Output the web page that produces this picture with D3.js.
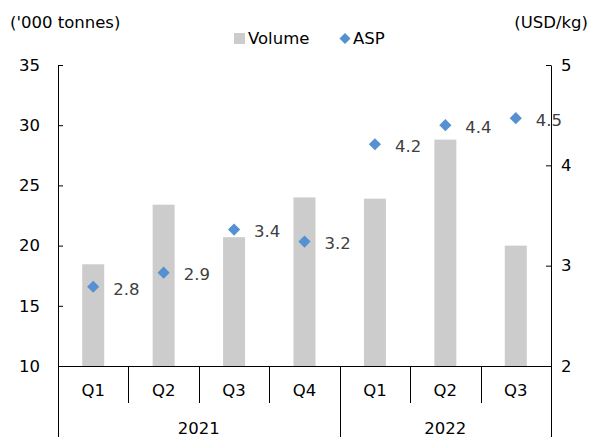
<!DOCTYPE html>
<html>
<head>
<meta charset="utf-8">
<script src="https://cdn.jsdelivr.net/npm/d3@7"></script>
<style>
  html, body { margin: 0; padding: 0; background: #fff; }
  svg { display: block; font-family: "DejaVu Sans", Verdana, sans-serif; }
</style>
</head>
<body>
<svg id="chart" width="589" height="437"></svg>
<script>
// Quarterly sales volume ('000 tonnes) and average selling price (USD/kg)
const quarters = ["Q1", "Q2", "Q3", "Q4", "Q1", "Q2", "Q3"];
const years = ["2021", "2022"];
const yearSpans = [4, 3];
const volume = [18.45, 23.4, 20.7, 24.0, 23.9, 28.8, 20.0];
const asp = [2.79, 2.93, 3.36, 3.24, 4.21, 4.40, 4.47];
const leftTicks = [10, 15, 20, 25, 30, 35];
const rightTicks = [2, 3, 4, 5];

const svg = d3.select("#chart");
const fontSize = 16.5;
const plotL = 58, plotR = 551, plotT = 65, plotB = 366;

const keys = quarters.map((q, i) => i);
const x = d3.scaleBand().domain(keys).range([plotL, plotR]).padding(0);
const yL = d3.scaleLinear().domain([10, 35]).range([plotB, plotT]);
const yR = d3.scaleLinear().domain([2, 5]).range([plotB, plotT]);

const barW = 22;

// bars
svg.append("g").selectAll("rect")
  .data(volume)
  .join("rect")
  .attr("x", (d, i) => x(i) + x.bandwidth() / 2 - barW / 2)
  .attr("y", d => yL(d))
  .attr("width", barW)
  .attr("height", d => yL(10) - yL(d))
  .attr("fill", "#cccccc");

// left axis
const gL = svg.append("g")
  .attr("transform", `translate(${plotL},0)`)
  .call(d3.axisLeft(yL).tickValues(leftTicks).tickFormat(d3.format("d"))
    .tickSizeInner(-5).tickSizeOuter(0).tickPadding(18));
// right axis
const gR = svg.append("g")
  .attr("transform", `translate(${plotR},0)`)
  .call(d3.axisRight(yR).tickValues(rightTicks).tickFormat(d3.format("d"))
    .tickSizeInner(-5).tickSizeOuter(0).tickPadding(10));
[gL, gR].forEach(g => {
  g.select(".domain").attr("stroke", "#000").attr("stroke-width", 1);
  g.selectAll(".tick line").attr("stroke", "#000");
  g.selectAll(".tick text").attr("font-size", fontSize).attr("fill", "#000")
    .attr("font-family", "DejaVu Sans, sans-serif");
});

// category axis: baseline, quarter separators, year separators
const cat = svg.append("g");
cat.append("line")
  .attr("x1", plotL).attr("x2", plotR)
  .attr("y1", plotB + 0.5).attr("y2", plotB + 0.5)
  .attr("stroke", "#000");
keys.forEach(i => {
  if (i > 0) {
    cat.append("line")
      .attr("x1", Math.round(x(i)) + 0.5).attr("x2", Math.round(x(i)) + 0.5)
      .attr("y1", plotB).attr("y2", 403)
      .attr("stroke", "#000");
  }
  cat.append("text")
    .attr("x", x(i) + x.bandwidth() / 2)
    .attr("y", 390)
    .attr("dy", "0.35em")
    .attr("text-anchor", "middle")
    .attr("font-size", fontSize)
    .text(quarters[i]);
});
let start = 0;
const yearEdges = [0];
yearSpans.forEach((n, k) => {
  const x0 = x(start);
  const x1 = start + n < keys.length ? x(start + n) : plotR;
  cat.append("text")
    .attr("x", (x0 + x1) / 2)
    .attr("y", 428)
    .attr("dy", "0.35em")
    .attr("text-anchor", "middle")
    .attr("font-size", fontSize)
    .text(years[k]);
  start += n;
  yearEdges.push(start);
});
yearEdges.forEach(i => {
  const xx = i < keys.length ? x(i) : plotR;
  cat.append("line")
    .attr("x1", Math.round(xx) + 0.5).attr("x2", Math.round(xx) + 0.5)
    .attr("y1", plotB).attr("y2", 437)
    .attr("stroke", "#000");
});

// ASP markers and labels
const diamond = d3.symbol().type(d3.symbolSquare).size(74);
const pts = svg.append("g");
asp.forEach((v, i) => {
  const cx = x(i) + x.bandwidth() / 2;
  pts.append("path")
    .attr("d", diamond())
    .attr("transform", `translate(${cx},${yR(v)}) rotate(45)`)
    .attr("fill", "#5590d0");
  pts.append("text")
    .attr("x", cx + 20)
    .attr("y", yR(v) + 2)
    .attr("dy", "0.35em")
    .attr("font-size", fontSize)
    .attr("fill", "#404040")
    .text(v.toFixed(1));
});

// axis titles
svg.append("text").attr("x", 10).attr("y", 22).attr("dy", "0.35em")
  .attr("font-size", fontSize).text("('000 tonnes)");
svg.append("text").attr("x", 588).attr("y", 22).attr("dy", "0.35em")
  .attr("text-anchor", "end").attr("font-size", fontSize).text("(USD/kg)");

// legend
const lg = svg.append("g");
lg.append("rect").attr("x", 234).attr("y", 33).attr("width", 11).attr("height", 11).attr("fill", "#cccccc");
lg.append("text").attr("x", 248).attr("y", 38.5).attr("dy", "0.35em").attr("font-size", fontSize).text("Volume");
lg.append("path").attr("d", d3.symbol().type(d3.symbolSquare).size(60)())
  .attr("transform", "translate(345,38.5) rotate(45)").attr("fill", "#5590d0");
lg.append("text").attr("x", 353).attr("y", 38.5).attr("dy", "0.35em").attr("font-size", fontSize).text("ASP");
</script>
</body>
</html>
